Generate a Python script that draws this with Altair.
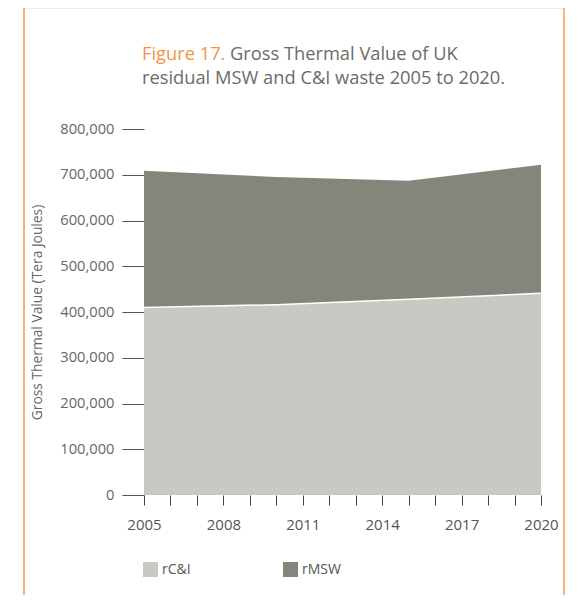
import altair as alt
import pandas as pd

# ---- data ----
years = [2005, 2010, 2015, 2020]
rci = [410000, 416000, 428000, 441000]
rmsw = [299000, 279000, 259000, 281000]
series = ["rC&I", "rMSW"]
colors = ["#C8C9C3", "#84857B"]
y_ticks = [0, 100000, 200000, 300000, 400000, 500000, 600000, 700000, 800000]
x_ticks = list(range(2005, 2021))
title_lead = "Figure 17."
title_line1 = "Gross Thermal Value of UK"
title_line2 = "residual MSW and C&I waste 2005 to 2020."
y_title = "Gross Thermal Value (Tera Joules)"

FONT = "Open Sans"
ORANGE = "#F39444"
GREY_TXT = "#6B6C67"

rows = []
for i, yr in enumerate(years):
    rows.append({"year": yr, "series": series[0], "value": rci[i], "ord": 0})
    rows.append({"year": yr, "series": series[1], "value": rmsw[i], "ord": 1})
df = pd.DataFrame(rows)
df_line = pd.DataFrame({"year": years, "value": rci})

x_enc = alt.X(
    "year:Q",
    scale=alt.Scale(domain=[2005, 2020], nice=False, zero=False),
    axis=alt.Axis(
        values=x_ticks, tickCount=len(x_ticks), format="d",
        labelExpr="(datum.value - 2005) % 3 == 0 ? datum.label : ''",
        tickSize=10, tickColor="#444444", tickWidth=1,
        domain=False, grid=False, labelFlush=False, labelOverlap=False,
        labelFont=FONT, labelFontSize=15, labelColor="#555555",
        labelPadding=12,
    ),
    title=None,
)

y_axis = alt.Axis(
    values=y_ticks, tickCount=len(y_ticks), format=",d", tickSize=22,
    tickColor="#555555", tickWidth=1,
    domain=False, grid=False, labelFont=FONT, labelFontSize=14.7,
    labelColor="#666666", labelPadding=8,
    title=y_title, titleFont=FONT, titleFontSize=13.8, titleFontWeight="normal",
    titleColor="#666666", titlePadding=15,
)

area = alt.Chart(df).mark_area(opacity=1).encode(
    x=x_enc,
    y=alt.Y("value:Q", stack="zero",
            scale=alt.Scale(domain=[0, 800000], nice=False), axis=y_axis),
    color=alt.Color(
        "series:N",
        scale=alt.Scale(domain=series, range=colors),
        legend=alt.Legend(
            orient="none", legendX=-1, legendY=433, direction="horizontal",
            title=None, symbolType="square", symbolSize=225,
            symbolStrokeWidth=0, symbolOpacity=1,
            labelFont=FONT, labelFontSize=14, labelColor="#555555",
            labelOffset=4, columnPadding=92,
        ),
    ),
    order=alt.Order("ord:Q"),
)

sep = alt.Chart(df_line).mark_line(color="white", strokeWidth=1.5).encode(
    x="year:Q", y="value:Q"
)

frame = alt.Chart(pd.DataFrame({"k": [0]})).mark_rect(
    fillOpacity=0, stroke="#F5A05C", strokeWidth=1.6
).encode(
    x=alt.value(-120), x2=alt.value(420), y=alt.value(-121.5), y2=alt.value(480)
)

def txt(s, color, xv, yv):
    return alt.Chart(pd.DataFrame({"t": [s]})).mark_text(
        align="left", baseline="alphabetic", fontSize=18.3, font=FONT, color=color
    ).encode(text="t:N", x=alt.value(xv), y=alt.value(yv))

t0 = txt(title_lead, ORANGE, -2, -69)
t1 = txt(title_line1, GREY_TXT, 86, -69)
t2 = txt(title_line2, GREY_TXT, -2, -45)

chart = alt.layer(frame, area, sep, t0, t1, t2).properties(
    width=397, height=366,
    autosize=alt.AutoSizeParams(type="none"),
    padding={"left": 136, "top": 121, "right": 27, "bottom": 100},
).configure_view(stroke=None)

chart.save("out.html", embed_options={"renderer": "svg", "actions": False})
